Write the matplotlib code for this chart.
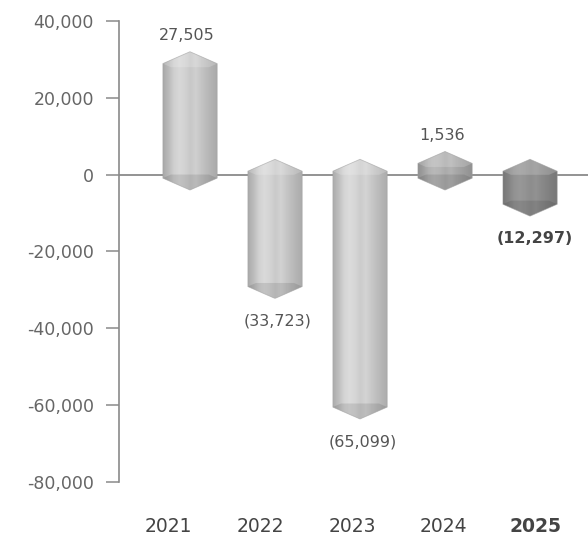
import numpy as np
import matplotlib
matplotlib.use("Agg")
import matplotlib.pyplot as plt
from matplotlib.patches import Polygon
from matplotlib.colors import to_rgb

# ---- data ----
years = ["2021", "2022", "2023", "2024", "2025"]
values = [27505, -33723, -65099, 1536, -12297]
value_labels = ["27,505", "(33,723)", "(65,099)", "1,536", "(12,297)"]
yticks = [40000, 20000, 0, -20000, -40000, -60000, -80000]
ytick_labels = ["40,000", "20,000", "0", "-20,000", "-40,000", "-60,000", "-80,000"]

# ---- style ----
bar_shades = ["#c4c4c4", "#c6c6c6", "#c8c8c8", "#a8a8a8", "#8a8a8a"]
bar_width = 0.64
bevel = 3100
zero_ext = 4000
pos_over = 4500
neg_over = 1500
tick_start, tick_step = -0.259, 1.082

plt.rcParams['font.family'] = ['DejaVu Sans']

fig = plt.figure(figsize=(5.88, 5.38), dpi=100)
ax = fig.add_axes([119 / 588, 1 - 482 / 538, 1 - 119 / 588, 461 / 538])
ax.set_xlim(-0.835, 4.682)
ax.set_ylim(-80000, 40000)

# zero line
ax.axhline(0, color="#8a8a8a", lw=1.3, zorder=1)

profile = np.array([0.86, 0.95, 1.06, 1.1, 1.07, 1.02, 1.06, 1.0, 0.95, 0.9, 0.86])
for i, (v, shade) in enumerate(zip(values, bar_shades)):
    x = i
    hw = bar_width / 2
    if v >= 0:
        hi = v + pos_over
        lo = -zero_ext
    else:
        hi = zero_ext
        lo = v + neg_over
    pts = [(x - hw, lo + bevel), (x - hw, hi - bevel), (x, hi),
           (x + hw, hi - bevel), (x + hw, lo + bevel), (x, lo)]
    poly = Polygon(pts, closed=True, facecolor="none", edgecolor="none", zorder=3)
    ax.add_patch(poly)
    base = np.array(to_rgb(shade))
    xs = np.linspace(0, 1, 200)
    prof = np.interp(xs, np.linspace(0, 1, len(profile)), profile)
    img = np.clip(base[None, :] * prof[:, None], 0, 1)[None, :, :]
    im = ax.imshow(img, extent=[x - hw, x + hw, lo, hi], aspect="auto",
                   interpolation="bilinear", zorder=3)
    im.set_clip_path(poly)
    # cap shading
    top_cap = Polygon([(x - hw, hi - bevel), (x, hi), (x + hw, hi - bevel),
                       (x + hw * 0.7, hi - bevel * 1.3), (x - hw * 0.7, hi - bevel * 1.3)],
                      closed=True, facecolor="white", alpha=0.18, edgecolor="none", zorder=4)
    bot_cap = Polygon([(x - hw, lo + bevel), (x, lo), (x + hw, lo + bevel),
                       (x + hw * 0.7, lo + bevel * 1.3), (x - hw * 0.7, lo + bevel * 1.3)],
                      closed=True, facecolor="black", alpha=0.10, edgecolor="none", zorder=4)
    ax.add_patch(top_cap)
    ax.add_patch(bot_cap)
    ax.add_patch(Polygon(pts, closed=True, facecolor="none", edgecolor="#a0a0a0",
                         lw=0.6, alpha=0.6, zorder=5))

    bold = (i == len(values) - 1)
    if v >= 0:
        ax.annotate(value_labels[i], (x - 0.04, hi), xytext=(0, 6), textcoords="offset points",
                    ha="center", va="bottom", fontsize=11.5, color="#555555",
                    fontweight="bold" if bold else "normal")
    else:
        ax.annotate(value_labels[i], (x + 0.06 if bold else x + 0.03, lo), xytext=(0, -11),
                    textcoords="offset points",
                    ha="center", va="top", fontsize=11.5, color="#444444" if bold else "#555555",
                    fontweight="bold" if bold else "normal")

# axes styling
for s in ["top", "right", "bottom"]:
    ax.spines[s].set_visible(False)
ax.spines["left"].set_color("#8a8a8a")
ax.spines["left"].set_linewidth(1.2)
ax.set_yticks(yticks)
ax.set_yticklabels(ytick_labels)
ax.tick_params(axis="y", length=9.5, width=1.1, color="#8a8a8a", pad=8.5,
               labelsize=12.5, labelcolor="#666666")
ax.set_xticks([tick_start + tick_step * i for i in range(len(years))])
ax.set_xticklabels(years)
ax.tick_params(axis="x", length=0, pad=25, labelsize=13.5, labelcolor="#444444")
ax.get_xticklabels()[-1].set_fontweight("bold")

fig.savefig("out.png", dpi=100)
